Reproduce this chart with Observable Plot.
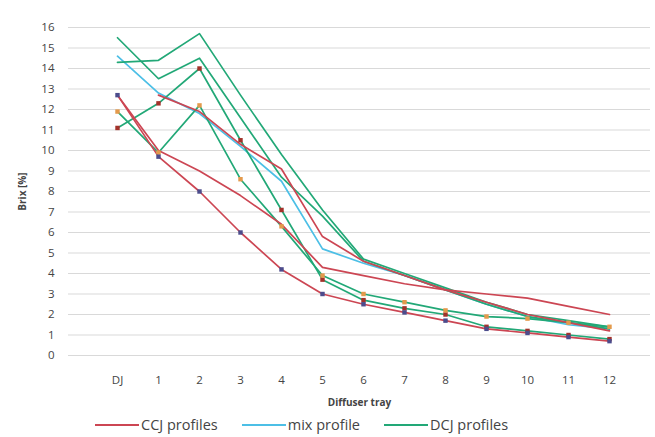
<!DOCTYPE html>
<html><head><meta charset="utf-8">
<script src="https://cdn.jsdelivr.net/npm/d3@7"></script>
<script src="https://cdn.jsdelivr.net/npm/@observablehq/plot@0.6"></script>
<style>
body{margin:0;background:#fff;font-family:"Open Sans",sans-serif;width:655px;height:437px;overflow:hidden}
#legend{display:flex;align-items:center;height:25px;padding-left:95px;font-size:14.5px;color:#444}
#legend .item{display:flex;align-items:center;margin-right:24px}
#legend .sw{width:44px;height:2px;margin-right:2px}
</style></head><body>
<div id="chart"></div>
<div id="legend"></div>
<script>
const trays = ["DJ","1","2","3","4","5","6","7","8","9","10","11","12"];
const ccj1 = [12.7, 9.7, 8.0, 6.0, 4.2, 3.0, 2.5, 2.1, 1.7, 1.3, 1.1, 0.9, 0.7];
const ccj2 = [12.7, 10.0, 9.0, 7.8, 6.4, 4.3, 3.9, 3.5, 3.2, 3.0, 2.8, 2.4, 2.0];
const ccj3 = [null, 12.7, 11.9, 10.3, 9.1, 5.8, 4.6, 3.9, 3.2, 2.6, 2.0, 1.6, 1.2];
const mix  = [14.6, 12.8, 11.8, 10.2, 8.5, 5.2, 4.5, 3.9, 3.2, 2.5, 1.9, 1.5, 1.3];
const dcjA = [14.3, 14.4, 15.7, 12.7, 9.8, 7.1, 4.7, 4.0, 3.3, 2.6, 2.0, 1.7, 1.4];
const dcjB = [15.5, 13.5, 14.5, 11.6, 8.7, 6.8, 4.6, 3.9, 3.2, 2.5, 1.9, 1.6, 1.3];
const dcjC = [11.1, 12.3, 14.0, 10.5, 7.1, 3.7, 2.7, 2.3, 2.0, 1.4, 1.2, 1.0, 0.8];
const dcjD = [11.9, 9.9, 12.2, 8.6, 6.3, 3.9, 3.0, 2.6, 2.2, 1.9, 1.8, 1.6, 1.4];
const yTicks = d3.range(0, 17);
const groups = ["CCJ profiles", "mix profile", "DCJ profiles"];
const colors = ["#cc4653", "#4cbfe6", "#22a877"];

const seriesList = [
  {id:"mix", group:"mix profile", values:mix, marker:null},
  {id:"dcjA", group:"DCJ profiles", values:dcjA, marker:null},
  {id:"dcjB", group:"DCJ profiles", values:dcjB, marker:null},
  {id:"dcjC", group:"DCJ profiles", values:dcjC, marker:"#a3322a"},
  {id:"dcjD", group:"DCJ profiles", values:dcjD, marker:"#e49a4c"},
  {id:"ccj3", group:"CCJ profiles", values:ccj3, marker:null},
  {id:"ccj2", group:"CCJ profiles", values:ccj2, marker:null},
  {id:"ccj1", group:"CCJ profiles", values:ccj1, marker:"#4c4c8c"}
];
const rows = seriesList.flatMap(s => s.values.map((v,i) => ({id:s.id, group:s.group, tray:trays[i], brix:v, marker:s.marker})))
  .filter(d => d.brix != null);
const colorOf = g => colors[groups.indexOf(g)];

const plot = Plot.plot({
  width: 655, height: 412,
  marginTop: 27, marginBottom: 57, marginLeft: 68, marginRight: 5,
  style: {fontFamily: '"Open Sans", sans-serif', fontSize: "11px", color: "#444"},
  x: {type: "point", domain: trays, range: [91, 635]},
  y: {domain: [0, 16], ticks: yTicks},
  marks: [
    Plot.ruleY(yTicks, {stroke: "#d9d9d9", strokeWidth: 1}),
    Plot.axisY({ticks: yTicks, tickSize: 0, tickPadding: 14, label: "Brix [%]", labelAnchor: "center", labelArrow: "none", labelOffset: 50, fontSize: 11.5}),
    Plot.axisX({tickSize: 0, tickPadding: 20, label: "Diffuser tray", labelAnchor: "center", labelArrow: "none", labelOffset: 50, fontSize: 11.5}),
    Plot.line(rows, {x: "tray", y: "brix", z: "id", stroke: d => colorOf(d.group), strokeWidth: 1.7}),
    Plot.dot(rows.filter(d => d.marker), {x: "tray", y: "brix", fill: "marker", r: 2.5, symbol: "square"})
  ]
});
plot.querySelectorAll("[aria-label='y-axis label'] text, [aria-label='x-axis label'] text").forEach(t => {t.setAttribute("font-weight", "bold"); t.setAttribute("font-size", "10");});
document.getElementById("chart").appendChild(plot);

const lg = d3.select("#legend");
groups.forEach((g, i) => {
  const it = lg.append("div").attr("class", "item");
  it.append("div").attr("class", "sw").style("background", colors[i]);
  it.append("span").text(g);
});
</script>
</body></html>
